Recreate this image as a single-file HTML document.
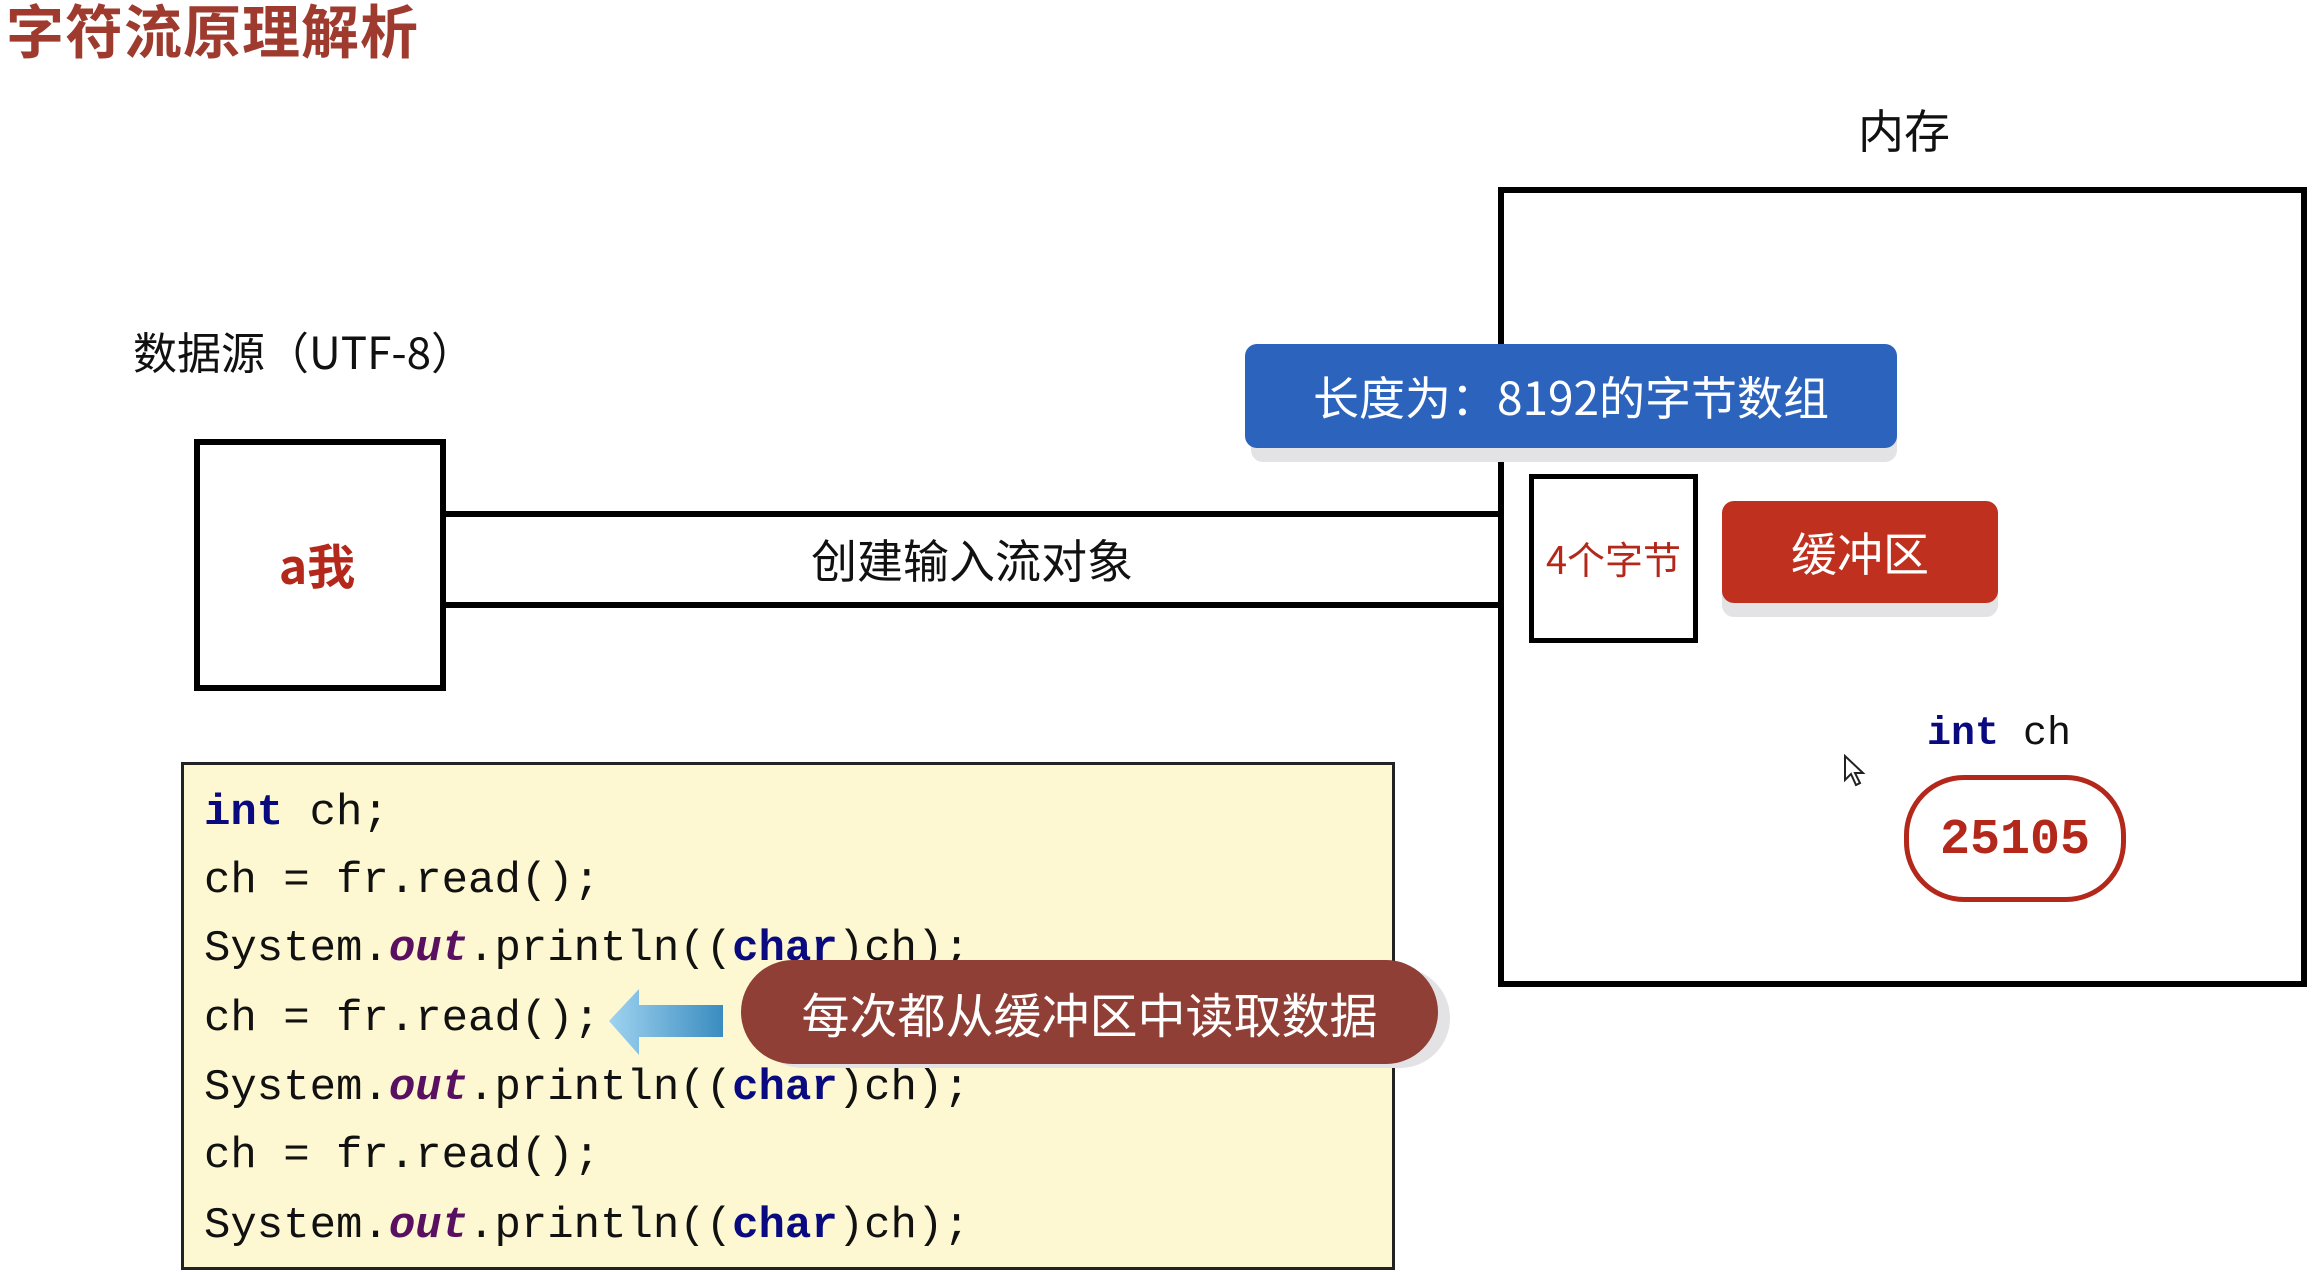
<!DOCTYPE html>
<html><head><meta charset="utf-8"><style>
html,body{margin:0;padding:0;}
body{width:2324px;height:1272px;position:relative;background:#fff;overflow:hidden;font-family:"Liberation Sans","Noto Sans CJK SC",sans-serif;}
.a{position:absolute;}
.cn{font-family:"Noto Sans CJK SC","WenQuanYi Zen Hei",sans-serif;}
.code{position:absolute;left:204px;font-family:"Liberation Mono","DejaVu Sans Mono",monospace;font-size:44px;color:#111;line-height:60px;white-space:pre;}
.kw{color:#0a0a80;font-weight:bold;}
.out{color:#5a1060;font-style:italic;font-weight:bold;}
</style></head><body>
<div class="a cn" style="left:6px;top:-14px;font-size:58px;font-weight:bold;color:#9e3b2e;letter-spacing:1px;">字符流原理解析</div>
<div class="a cn" style="left:133px;top:318px;font-size:44px;color:#111;">数据源（UTF-8）</div>
<div class="a" style="left:194px;top:439px;width:240px;height:240px;border:6px solid #000;"></div>
<div class="a cn" style="left:194px;top:528px;width:246px;text-align:center;font-size:48px;font-weight:bold;color:#b3281b;">a我</div>
<div class="a" style="left:446px;top:511px;width:1052px;height:6px;background:#000;"></div>
<div class="a" style="left:446px;top:602px;width:1052px;height:6px;background:#000;"></div>
<div class="a cn" style="left:446px;top:526px;width:1052px;text-align:center;font-size:46px;color:#111;">创建输入流对象</div>
<div class="a cn" style="left:1858px;top:96px;font-size:46px;color:#111;">内存</div>
<div class="a" style="left:1498px;top:187px;width:797px;height:788px;border:6px solid #000;"></div>
<div class="a" style="left:1251px;top:358px;width:646px;height:104px;border-radius:12px;background:#e3e3e6;"></div>
<div class="a cn" style="left:1245px;top:344px;width:652px;height:104px;border-radius:12px;background:#2c64bd;color:#fff;font-size:46px;line-height:104px;text-align:center;">长度为：8192的字节数组</div>
<div class="a" style="left:1529px;top:474px;width:159px;height:159px;border:5px solid #000;"></div>
<div class="a cn" style="left:1529px;top:530px;width:169px;text-align:center;font-size:38px;color:#b3281b;white-space:nowrap;">4个字节</div>
<div class="a" style="left:1722px;top:515px;width:276px;height:102px;border-radius:12px;background:#e3e3e6;"></div>
<div class="a cn" style="left:1722px;top:501px;width:276px;height:102px;border-radius:12px;background:#c0301f;color:#fff;font-size:46px;line-height:102px;text-align:center;">缓冲区</div>
<div class="a" style="left:1927px;top:712px;font-family:'Liberation Mono',monospace;font-size:40px;color:#111;white-space:pre;"><span class="kw">int</span> ch</div>
<div class="a" style="left:1904px;top:775px;width:212px;height:117px;border:5px solid #b3281b;border-radius:60px;"></div>
<div class="a" style="left:1904px;top:812px;width:222px;text-align:center;font-family:'Liberation Mono',monospace;font-size:50px;font-weight:bold;color:#b3281b;">25105</div>
<svg class="a" style="left:1843px;top:754px;" width="24" height="34"><path d="M2 2 L2 26 L8 20 L13 31 L17 29 L12 19 L20 19 Z" fill="#fff" stroke="#222" stroke-width="2"/></svg>
<div class="a" style="left:181px;top:762px;width:1208px;height:502px;border:3px solid #222;background:#fdf8d2;"></div>
<div class="code" style="top:783px;"><span class="kw">int</span> ch;</div>
<div class="code" style="top:851px;">ch = fr.read();</div>
<div class="code" style="top:919px;">System.<span class="out">out</span>.println((<span class="kw">char</span>)ch);</div>
<div class="code" style="top:989px;">ch = fr.read();</div>
<div class="code" style="top:1058px;">System.<span class="out">out</span>.println((<span class="kw">char</span>)ch);</div>
<div class="code" style="top:1126px;">ch = fr.read();</div>
<div class="code" style="top:1196px;">System.<span class="out">out</span>.println((<span class="kw">char</span>)ch);</div>
<svg class="a" style="left:605px;top:985px;" width="122" height="75">
<defs><linearGradient id="g" x1="0" x2="1"><stop offset="0" stop-color="#9fd3f0"/><stop offset="1" stop-color="#3a8cc0"/></linearGradient></defs>
<path d="M4 36 L34 4 L34 20 L118 20 L118 52 L34 52 L34 70 Z" fill="url(#g)"/>
</svg>
<div class="a" style="left:753px;top:968px;width:697px;height:100px;border-radius:50px;background:#e3e3e6;"></div>
<div class="a cn" style="left:741px;top:960px;width:697px;height:104px;border-radius:52px;background:#8f3f35;color:#fff;font-size:48px;line-height:104px;text-align:center;">每次都从缓冲区中读取数据</div>
</body></html>
